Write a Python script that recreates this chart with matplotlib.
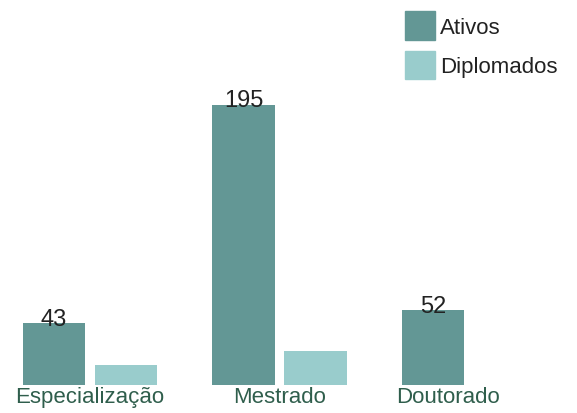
import matplotlib
matplotlib.use("Agg")
import matplotlib.pyplot as plt
import matplotlib.transforms as mtransforms
from matplotlib.patches import Patch
import numpy as np

categories = ["Especialização", "Mestrado", "Doutorado"]
ativos = [43, 195, 52]
diplomados = [14, 24, 0]
series_names = ["Ativos", "Diplomados"]

c_ativos = "#639795"
c_diplo = "#99cccc"
label_color = "#2f5e4c"

plt.rcParams['font.family'] = ['Liberation Sans', 'DejaVu Sans']

fig = plt.figure(figsize=(5.77, 4.14), dpi=100)
ax = fig.add_axes([0, 28/414, 1, 359/414])

x = np.arange(len(categories))
w = 0.33
off = 0.19
ax.bar(x - off, ativos, w, color=c_ativos)
ax.bar(x + off, diplomados, w, color=c_diplo)

for xi, v in zip(x - off, ativos):
    ax.annotate(str(v), (xi, v), xytext=(0, -1), textcoords="offset points",
                ha="center", va="baseline", fontsize=17, color="#222222")

ax.set_xlim(-0.475, 2.57)
ax.set_ylim(0, 250)
ax.set_yticks([])
ax.set_xticks(x)
ax.set_xticklabels(categories, fontsize=16, color=label_color)
ax.tick_params(axis="x", length=0, pad=1)
for s in ax.spines.values():
    s.set_visible(False)

lbls = ax.get_xticklabels()
lbls[2].set_transform(lbls[2].get_transform() + mtransforms.ScaledTranslation(-21/100, 0, fig.dpi_scale_trans))

handles = [Patch(color=c_ativos), Patch(color=c_diplo)]
fig.legend(handles, series_names, loc="upper left", bbox_to_anchor=(405/577, 1 - 12/414),
           frameon=False, fontsize=16, handlelength=1.35, handleheight=1.6,
           labelspacing=0.5, handletextpad=0.22, borderpad=0, borderaxespad=0,
           labelcolor="#222222")

fig.savefig("out.png", dpi=100)
